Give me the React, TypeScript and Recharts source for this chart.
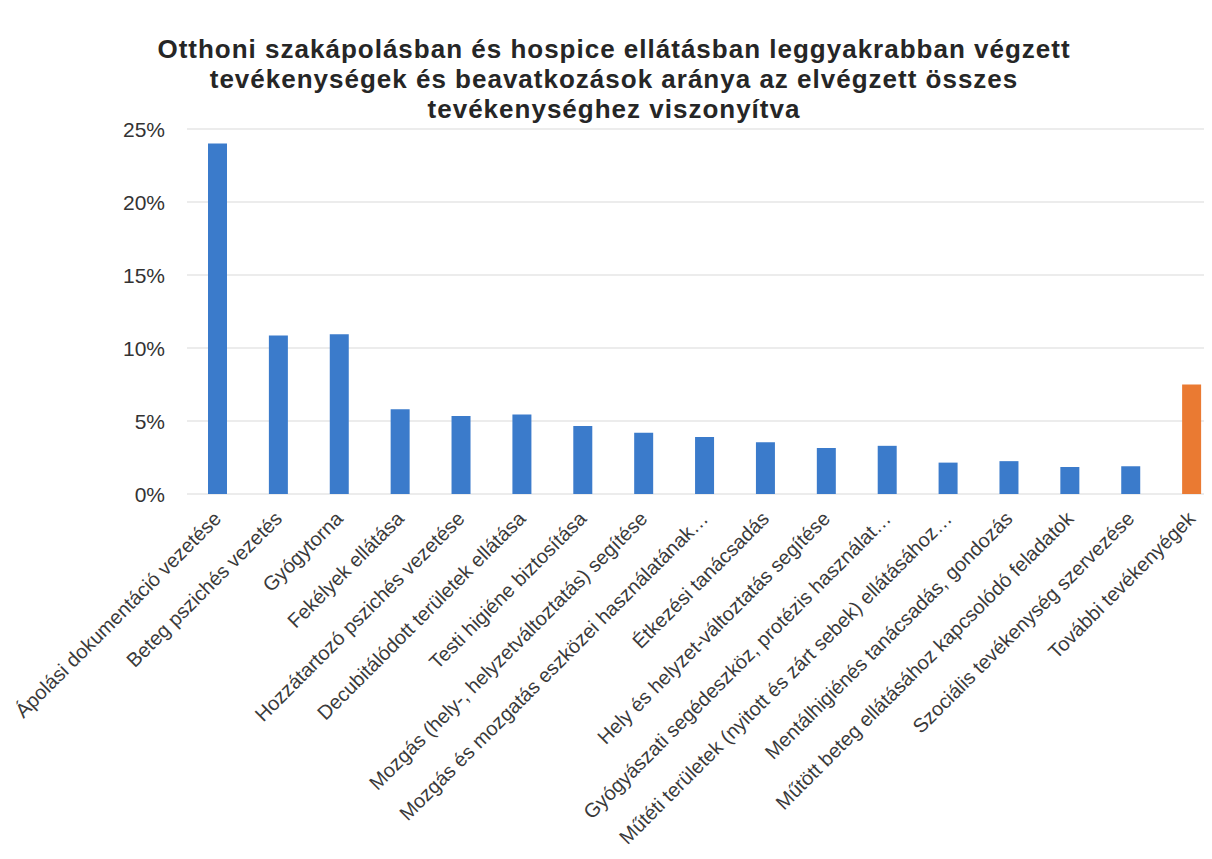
import React from 'react';
import { BarChart, Bar, XAxis, YAxis, CartesianGrid, Cell } from 'recharts';

const titleLines = [
  'Otthoni szakápolásban és hospice ellátásban leggyakrabban végzett',
  'tevékenységek és beavatkozások aránya az elvégzett összes',
  'tevékenységhez viszonyítva',
];

const activities = [
  'Ápolási dokumentáció vezetése',
  'Beteg pszichés vezetés',
  'Gyógytorna',
  'Fekélyek ellátása',
  'Hozzátartozó pszichés vezetése',
  'Decubitálódott területek ellátása',
  'Testi higiéne biztosítása',
  'Mozgás (hely-, helyzetváltoztatás) segítése',
  'Mozgás és mozgatás eszközei használatának…',
  'Étkezési tanácsadás',
  'Hely és helyzet-változtatás segítése',
  'Gyógyászati segédeszköz, protézis használat…',
  'Műtéti területek (nyitott és zárt sebek) ellátásához…',
  'Mentálhigiénés tanácsadás, gondozás',
  'Műtött beteg ellátásához kapcsolódó feladatok',
  'Szociális tevékenység szervezése',
  'További tevékenyégek',
];

// share of all activities, %
const shares = [24.0, 10.85, 10.95, 5.8, 5.35, 5.45, 4.65, 4.2, 3.9, 3.55, 3.15, 3.3, 2.15, 2.25, 1.85, 1.9, 7.5];

const yTicks = [0, 5, 10, 15, 20, 25];

const data = activities.map((name, i) => ({ name, value: shares[i] }));

const FONT = '"Liberation Sans", Arial, sans-serif';
const BLUE = '#3b7bcb';
const ORANGE = '#ea7a32';

const XTick = (props: any) => {
  const { x, y, payload } = props;
  return (
    <g transform={`translate(${x + 5},${y + 18})`}>
      <text transform="rotate(-45)" textAnchor="end" fontSize={20} fill="#3a3a3a" fontFamily={FONT}>
        {payload.value}
      </text>
    </g>
  );
};

const YTick = (props: any) => {
  const { y, payload } = props;
  return (
    <text x={165} y={y} dy="0.36em" textAnchor="end" fontSize={21} fill="#333" fontFamily={FONT}>
      {`${payload.value}%`}
    </text>
  );
};

export default function App() {
  return (
    <div style={{ position: 'relative', width: 1212, height: 859, overflow: 'hidden', background: '#fff', margin: -8 }}>
      <div
        style={{
          position: 'absolute',
          left: 0,
          top: 34,
          width: 1228,
          textAlign: 'center',
          fontFamily: FONT,
          fontWeight: 'bold',
          fontSize: 26,
          letterSpacing: 1,
          lineHeight: '30px',
          color: '#262626',
        }}
      >
        {titleLines.map((line) => (
          <div key={line}>{line}</div>
        ))}
      </div>
      <BarChart width={1222} height={859} data={data} margin={{ top: 129, right: 0, left: 0, bottom: 0 }}>
        <CartesianGrid vertical={false} stroke="#e6e6e6" strokeWidth={1.5} />
        <XAxis dataKey="name" interval={0} height={365} axisLine={false} tickLine={false} tick={<XTick />} />
        <YAxis width={187} domain={[0, 25]} ticks={yTicks} axisLine={false} tickLine={false} tick={<YTick />} />
        <Bar dataKey="value" barSize={19} isAnimationActive={false}>
          {data.map((d, i) => (
            <Cell key={d.name} fill={i === data.length - 1 ? ORANGE : BLUE} />
          ))}
        </Bar>
      </BarChart>
    </div>
  );
}
